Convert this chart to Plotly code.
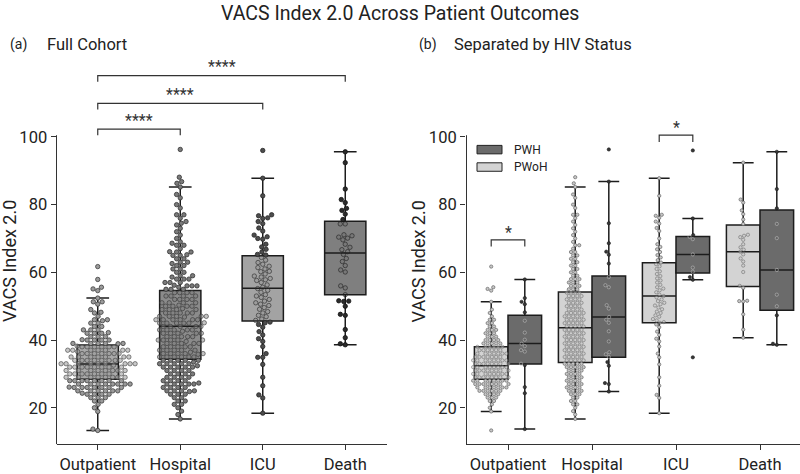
import math
import plotly.graph_objects as go

# ---------------- data ----------------
categories = ["Outpatient", "Hospital", "ICU", "Death"]
y_ticks = [20, 40, 60, 80, 100]

out_pwoh = [
    13.3, 18.9, 20, 21, 22, 22, 23, 23, 23, 24, 24, 24, 24,
    25, 25, 25, 25, 25, 25,
    26, 26, 26, 26, 26, 26, 26,
    27, 27, 27, 27, 27, 27, 27, 27,
    28, 28, 28, 28, 28, 28, 28, 28,
    29, 29, 29, 29, 29, 29, 29, 29,
    30, 30, 30, 30, 30, 30, 30, 30,
    31, 31, 31, 31, 31, 31, 31, 31,
    32, 32, 32, 32, 32, 32, 32, 32,
    33, 33, 33, 33, 33, 33, 33, 33,
    34, 34, 34, 34, 34, 34, 34, 34,
    35, 35, 35, 35, 35, 35, 35,
    36, 36, 36, 36, 36, 36, 36,
    37, 37, 37, 37, 37, 37,
    38, 38, 38, 38, 38, 38,
    39, 39, 39, 39, 39,
    40, 40, 40, 40,
    41, 41, 41, 42, 42, 42, 43, 43, 43, 44, 44, 45, 45, 46, 46,
    47, 48, 49, 51.3, 54.6, 55.1, 55.6, 61.7,
]
out_pwh = [13.7, 24.3, 26.1, 32.6, 33.0, 36.6, 37.0, 38.2, 38.9, 40.1,
           42.2, 45.7, 48.2, 50.6, 51.3, 52.4, 57.9]

hosp_pwoh = [
    16.7, 18, 19, 20, 21, 21, 22, 22, 23, 23, 24, 24, 24,
    25, 25, 25, 25, 26, 26, 26, 26,
    27, 27, 27, 27, 28, 28, 28, 28,
    29, 29, 29, 29, 30, 30, 30, 30, 31, 31, 31, 31,
    32, 32, 32, 32, 32, 33, 33, 33, 33, 33,
    34, 34, 34, 34, 34, 35, 35, 35, 35, 35,
    36, 36, 36, 36, 36, 37, 37, 37, 37, 37,
    38, 38, 38, 38, 38, 39, 39, 39, 39, 39,
    40, 40, 40, 40, 40, 41, 41, 41, 41, 41,
    42, 42, 42, 42, 42, 43, 43, 43, 43, 43,
    44, 44, 44, 44, 44, 45, 45, 45, 45, 45,
    46, 46, 46, 46, 46,
    47, 47, 47, 47, 47, 48, 48, 48, 48, 48,
    49, 49, 49, 49, 50, 50, 50, 50,
    51, 51, 51, 51, 52, 52, 52, 52, 53, 53, 53, 53, 54, 54, 54, 54,
    55, 55, 55, 56, 56, 56, 57, 57, 57, 58, 58, 58,
    59, 59, 60, 60, 61, 61, 62, 62, 63, 63, 64, 64, 65, 65, 66, 66,
    67, 68, 68, 69, 70, 71, 72, 73, 74, 75, 76, 77, 77,
    79, 80, 82, 83, 85.2, 86.3, 88.1,
]
hosp_pwh = [24.8, 27.0, 27.3, 32.4, 33.5, 35.0, 35.8, 36.4, 39.6, 42.6,
            45.1, 46.0, 46.8, 49.3, 50.3, 55.6, 56.2, 58.6, 62.6, 65.2,
            66.1, 68.6, 74.5, 86.8, 96.3]

icu_pwoh = [18.4, 22.9, 23.8, 26.5, 29.0, 32.8, 34.9, 36.0, 38.1, 39.6,
            40.4, 41.5, 42.5, 43.8, 44.6, 45.1, 45.3, 45.8, 46.2, 46.9,
            47.3, 48.0, 48.4, 49.1, 49.6, 50.2, 50.6, 51.0, 51.5, 52.0,
            52.6, 53.0, 53.4, 54.1, 54.7, 55.2, 55.6, 56.3, 57.0, 57.6,
            58.2, 58.9, 59.5, 60.3, 61.0, 61.8, 62.4, 62.9, 63.6, 64.4,
            65.1, 66.0, 66.8, 67.5, 68.3, 70.0, 72.2, 73.1, 74.4, 75.0,
            76.1, 76.7, 77.0, 82.6, 87.8]
icu_pwh = [34.9, 57.8, 58.6, 60.2, 61.4, 65.3, 69.8, 70.5, 71.0, 75.9, 96.0]

death_pwoh = [40.7, 43.1, 47.6, 51.4, 51.5, 51.6, 55.4, 56.0, 60.1, 62.0,
              63.2, 64.1, 65.3, 66.1, 66.7, 67.4, 68.3, 69.6, 70.4, 70.8,
              71.1, 74.3, 75.6, 77.2, 78.3, 80.6, 81.5, 92.4]
death_pwh = [38.6, 38.9, 47.3, 50.0, 53.4, 60.7, 70.1, 74.3, 78.9, 84.6, 95.6]

pwoh_values = [out_pwoh, hosp_pwoh, icu_pwoh, death_pwoh]
pwh_values = [out_pwh, hosp_pwh, icu_pwh, death_pwh]

# box statistics
full_q1 = [28.4, 34.3, 45.6, 53.4]
full_median = [32.9, 44.1, 55.3, 65.7]
full_q3 = [38.5, 54.6, 64.9, 75.1]
full_low = [13.3, 16.7, 18.4, 38.6]
full_high = [52.4, 85.2, 87.8, 95.6]

pwoh_q1 = [28.4, 33.4, 45.1, 55.8]
pwoh_median = [32.4, 43.6, 53.0, 66.1]
pwoh_q3 = [38.0, 54.2, 62.8, 74.0]
pwoh_low = [18.9, 16.7, 18.4, 40.7]
pwoh_high = [51.3, 85.2, 87.8, 92.4]

pwh_q1 = [32.9, 34.9, 59.8, 48.8]
pwh_median = [39.0, 46.8, 65.3, 60.7]
pwh_q3 = [47.3, 58.9, 70.6, 78.4]
pwh_low = [13.7, 24.8, 57.8, 38.6]
pwh_high = [57.9, 86.8, 75.9, 95.6]

# significance brackets
brackets_a = [(0, 1, "****"), (0, 2, "****"), (0, 3, "****")]
bracket_a_levels = [102.3, 109.9, 118.1]
brackets_b = [(-0.2, 0.2, "*"), (1.8, 2.2, "*")]
bracket_b_levels = [69.6, 100.5]

# ---------------- styling ----------------
FONT = "Roboto"
TXT = "#222222"
LINE = "#1c1c1c"
Y_RANGE = [9.26, 124.0]
PX_PER_Y = 3.4

box_a_colors = ["#a9a9a9", "#8b8b8b", "#a3a3a3", "#7f7f7f"]
pt_a_fill = [(155, 155, 155), (123, 123, 123), (77, 77, 77), (43, 43, 43)]
pt_a_edge = [(60, 60, 60), (50, 50, 50), (38, 38, 38), (20, 20, 20)]
in_a_fill_alpha = [0.55, 0.45, 0.08, 0.08]
in_a_edge = [(60, 60, 60, 0.75), (50, 50, 50, 0.75), (45, 45, 45, 0.8), (35, 35, 35, 0.8)]

PWOH_BOX = "#d3d3d3"
PWH_BOX = "#6b6b6b"


def rgba(c, a=1.0):
    return "rgba(%d,%d,%d,%.3f)" % (c[0], c[1], c[2], a)


def swarm_offsets(values, d, xpx, ypx):
    """Beeswarm layout: returns horizontal offsets (data units)."""
    order = sorted(range(len(values)), key=lambda i: values[i])
    placed = []
    offs = [0.0] * len(values)
    for i in order:
        y = values[i] * ypx
        near = [(px, py) for (px, py) in placed if abs(py - y) < d]
        cands = [0.0]
        for px, py in near:
            dx = math.sqrt(max(d * d - (py - y) ** 2, 0.0))
            cands.append(px + dx)
            cands.append(px - dx)
        cands.sort(key=lambda c: (abs(c), c))
        chosen = 0.0
        for c in cands:
            if all((c - px) ** 2 + (py - y) ** 2 >= d * d - 1e-6 for px, py in near):
                chosen = c
                break
        placed.append((chosen, y))
        offs[i] = chosen / xpx
    return offs


fig = go.Figure()

# ---------------- panel (a) ----------------
XA_PX = 82.5
for i, cat in enumerate(categories):
    fig.add_trace(go.Box(
        x=[i], q1=[full_q1[i]], median=[full_median[i]], q3=[full_q3[i]],
        lowerfence=[full_low[i]], upperfence=[full_high[i]],
        width=0.5, whiskerwidth=0.55, fillcolor=box_a_colors[i],
        line=dict(color=LINE, width=1.5), boxpoints=False,
        xaxis="x", yaxis="y", showlegend=False, hoverinfo="skip"))

for i, cat in enumerate(categories):
    vals = pwoh_values[i] + pwh_values[i]
    offs = swarm_offsets(vals, 5.0, XA_PX, PX_PER_Y)
    fills, edges = [], []
    for v in vals:
        inside = full_q1[i] <= v <= full_q3[i]
        if inside:
            fills.append(rgba(pt_a_fill[i], in_a_fill_alpha[i]))
            e = in_a_edge[i]
            edges.append(rgba(e[:3], e[3]))
        else:
            fills.append(rgba(pt_a_fill[i]))
            edges.append(rgba(pt_a_edge[i]))
    fig.add_trace(go.Scatter(
        x=[i + o for o in offs], y=vals, mode="markers",
        marker=dict(size=4.4, color=fills, line=dict(color=edges, width=0.8)),
        xaxis="x", yaxis="y", showlegend=False, hoverinfo="skip", cliponaxis=False))

# ---------------- panel (b) ----------------
XB_PX = 84.0
groups = [
    ("PWoH", -0.2, pwoh_values, pwoh_q1, pwoh_median, pwoh_q3, pwoh_low, pwoh_high, PWOH_BOX,
     (198, 198, 198), (85, 85, 85), (198, 198, 198, 0.45), (85, 85, 85, 0.75)),
    ("PWH", 0.2, pwh_values, pwh_q1, pwh_median, pwh_q3, pwh_low, pwh_high, PWH_BOX,
     (55, 55, 55), (28, 28, 28), (55, 55, 55, 0.12), (200, 200, 200, 0.85)),
]
for name, dx, vlist, q1, med, q3, lo, hi, bcol, pf, pe, inf, ine in groups:
    for i in range(len(categories)):
        fig.add_trace(go.Box(
            x=[i + dx], q1=[q1[i]], median=[med[i]], q3=[q3[i]],
            lowerfence=[lo[i]], upperfence=[hi[i]],
            width=0.4, whiskerwidth=0.62, fillcolor=bcol,
            line=dict(color=LINE, width=1.5), boxpoints=False,
            xaxis="x2", yaxis="y2", showlegend=False, hoverinfo="skip"))
for name, dx, vlist, q1, med, q3, lo, hi, bcol, pf, pe, inf, ine in groups:
    for i in range(len(categories)):
        vals = vlist[i]
        offs = swarm_offsets(vals, 4.0, XB_PX, PX_PER_Y)
        fills, edges = [], []
        for v in vals:
            if q1[i] <= v <= q3[i]:
                fills.append(rgba(inf[:3], inf[3]))
                edges.append(rgba(ine[:3], ine[3]))
            else:
                fills.append(rgba(pf))
                edges.append(rgba(pe))
        fig.add_trace(go.Scatter(
            x=[i + dx + o for o in offs], y=vals, mode="markers",
            marker=dict(size=3.3, color=fills, line=dict(color=edges, width=0.6)),
            xaxis="x2", yaxis="y2", showlegend=False, hoverinfo="skip", cliponaxis=False))

# ---------------- axes ----------------
W, H = 800, 474
y_dom = [(H - 446) / H, (H - (137.5 - (Y_RANGE[1] - 100) * PX_PER_Y)) / H]
axis_common = dict(showgrid=False, zeroline=False, ticks="outside", ticklen=5,
                   tickwidth=1, tickcolor="#333333",
                   tickfont=dict(family=FONT, size=16.5, color=TXT))
fig.update_layout(
    width=W, height=H, margin=dict(l=0, r=0, t=0, b=0),
    plot_bgcolor="white", paper_bgcolor="white", showlegend=False,
    font=dict(family=FONT, color=TXT),
    xaxis=dict(domain=[56.5 / W, 386.5 / W], range=[-0.5, 3.5], anchor="y",
               tickvals=[0, 1, 2, 3], ticktext=categories, showline=True,
               linecolor="#333333", linewidth=1, **axis_common),
    yaxis=dict(domain=y_dom, range=Y_RANGE, anchor="x", tickvals=y_ticks,
               showline=False, **axis_common),
    xaxis2=dict(domain=[466 / W, 1.0], range=[-0.5, 3.476], anchor="y2",
                tickvals=[0, 1, 2, 3], ticktext=categories, showline=True,
                linecolor="#333333", linewidth=1, **axis_common),
    yaxis2=dict(domain=y_dom, range=Y_RANGE, anchor="x2", tickvals=y_ticks,
                showline=False, **axis_common),
)

shapes = []
# left spines, trimmed at 100
for xp in (56.5, 466.5):
    shapes.append(dict(type="line", xref="paper", yref="paper",
                       x0=xp / W, x1=xp / W, y0=(H - 446) / H, y1=(H - 135.8) / H,
                       line=dict(color="#333333", width=1), layer="above"))
# brackets
annotations = []
for (a, b, lab), lev in zip(brackets_a, bracket_a_levels):
    shapes.append(dict(type="path", xref="x", yref="y",
                       path="M %g,%g L %g,%g L %g,%g L %g,%g" % (a, lev - 1.8, a, lev, b, lev, b, lev - 1.8),
                       line=dict(color="#333333", width=1.2)))
    annotations.append(dict(x=(a + b) / 2, y=lev + 2.6, xref="x", yref="y", text=lab,
                            showarrow=False, yanchor="middle",
                            font=dict(family=FONT, size=16, color="#333333")))
for (a, b, lab), lev in zip(brackets_b, bracket_b_levels):
    shapes.append(dict(type="path", xref="x2", yref="y2",
                       path="M %g,%g L %g,%g L %g,%g L %g,%g" % (a, lev - 2.0, a, lev, b, lev, b, lev - 2.0),
                       line=dict(color="#333333", width=1.2)))
    annotations.append(dict(x=(a + b) / 2, y=lev + 2.3, xref="x2", yref="y2", text=lab,
                            showarrow=False, yanchor="middle",
                            font=dict(family=FONT, size=16, color="#333333")))

# legend (panel b)
legend_items = [("PWH", PWH_BOX, 146, 154.5), ("PWoH", PWOH_BOX, 163.5, 172)]
for lab, col, ytop, ybot in legend_items:
    shapes.append(dict(type="rect", xref="paper", yref="paper",
                       x0=477 / W, x1=502 / W, y0=(H - ybot) / H, y1=(H - ytop) / H,
                       fillcolor=col, line=dict(color="#222222", width=1)))
    annotations.append(dict(x=512 / W, y=(H - (ytop + ybot) / 2) / H, xref="paper", yref="paper",
                            text=lab, showarrow=False, xanchor="left", yanchor="middle",
                            font=dict(family=FONT, size=12, color=TXT)))

# titles
annotations += [
    dict(x=0.5, y=(H - 14) / H, xref="paper", yref="paper", showarrow=False,
         text="VACS Index 2.0 Across Patient Outcomes", xanchor="center", yanchor="middle",
         font=dict(family=FONT, size=19.5, color=TXT)),
    dict(x=8 / W, y=(H - 45) / H, xref="paper", yref="paper", showarrow=False,
         text="(a)", xanchor="left", yanchor="middle", font=dict(family=FONT, size=14, color=TXT)),
    dict(x=45 / W, y=(H - 45) / H, xref="paper", yref="paper", showarrow=False,
         text="Full Cohort", xanchor="left", yanchor="middle", font=dict(family=FONT, size=16.5, color=TXT)),
    dict(x=417 / W, y=(H - 45) / H, xref="paper", yref="paper", showarrow=False,
         text="(b)", xanchor="left", yanchor="middle", font=dict(family=FONT, size=14, color=TXT)),
    dict(x=452 / W, y=(H - 45) / H, xref="paper", yref="paper", showarrow=False,
         text="Separated by HIV Status", xanchor="left", yanchor="middle",
         font=dict(family=FONT, size=16.5, color=TXT)),
    dict(x=10 / W, y=(H - 262) / H, xref="paper", yref="paper", showarrow=False,
         text="VACS Index 2.0", textangle=-90, xanchor="center", yanchor="middle",
         font=dict(family=FONT, size=18, color=TXT)),
    dict(x=418.5 / W, y=(H - 262) / H, xref="paper", yref="paper", showarrow=False,
         text="VACS Index 2.0", textangle=-90, xanchor="center", yanchor="middle",
         font=dict(family=FONT, size=18, color=TXT)),
]

fig.update_layout(shapes=shapes, annotations=annotations)
fig.write_html("out.html", config={"displayModeBar": False},
               post_script="document.body.style.margin='0px';document.body.style.overflow='hidden';")
